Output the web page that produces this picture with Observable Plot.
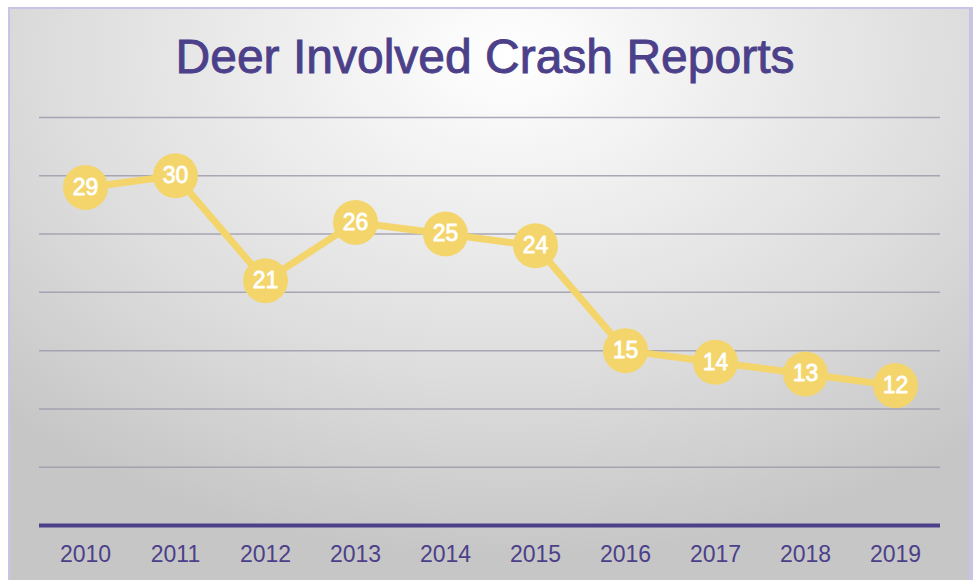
<!DOCTYPE html>
<html>
<head>
<meta charset="utf-8">
<script src="https://cdn.jsdelivr.net/npm/d3@7"></script>
<script src="https://cdn.jsdelivr.net/npm/@observablehq/plot@0.6"></script>
<style>
  html, body { margin: 0; padding: 0; background: #ffffff; }
  #wrap { position: relative; width: 973px; height: 580px; overflow: hidden; }
  #bg {
    position: absolute; left: 8px; top: 7px; width: 959px; height: 590px;
    border: 2px solid #c9c4e6; border-right-width: 4px;
    background: radial-gradient(ellipse 75% 85% at 52% 8%, #ffffff 0%, #ececec 35%, #dcdcdc 65%, #c6c6c6 100%);
  }
  #title {
    position: relative; height: 100px; box-sizing: border-box; padding-top: 33px;
    padding-left: 9px; width: 961px;
    text-align: center; font-family: "Liberation Sans", Arial, sans-serif;
    font-size: 48px; line-height: 1; color: #4b4089;
    -webkit-text-stroke: 0.9px #4b4089;
  }
  #chart { position: relative; }
</style>
</head>
<body>
<div id="wrap">
  <div id="bg"></div>
  <div id="title">Deer Involved Crash Reports</div>
  <div id="chart"></div>
</div>
<script>
const years = ["2010", "2011", "2012", "2013", "2014", "2015", "2016", "2017", "2018", "2019"];
const crashes = [29, 30, 21, 26, 25, 24, 15, 14, 13, 12];
const gridValues = [5, 10, 15, 20, 25, 30, 35];

const data = years.map((y, i) => ({year: y, value: crashes[i]}));

const chart = Plot.plot({
  width: 973,
  height: 480,
  marginLeft: 39,
  marginRight: 33,
  marginTop: 17,
  marginBottom: 55,
  style: {background: "transparent", fontFamily: "'Liberation Sans', Arial, sans-serif", overflow: "visible"},
  x: {type: "band", domain: years, padding: 0, label: null},
  y: {domain: [0, 35], axis: null},
  marks: [
    Plot.ruleY(gridValues, {stroke: "#9e9bab", strokeWidth: 1.5, strokeOpacity: 0.85}),
    Plot.ruleY([0], {stroke: "#4b4089", strokeWidth: 4}),
    Plot.line(data, {x: "year", y: "value", stroke: "#f3d56b", strokeWidth: 7, strokeLinejoin: "round"}),
    Plot.dot(data, {x: "year", y: "value", r: 22.5, fill: "#f3d56b", stroke: "none"}),
    Plot.text(data, {x: "year", y: "value", text: d => String(d.value), fill: "white", fontSize: 23, stroke: "white", strokeWidth: 0.8}),
    Plot.axisX({tickSize: 0, tickPadding: 20, fontSize: 23, color: "#4b4089", label: null})
  ]
});
document.getElementById("chart").appendChild(chart);
</script>
</body>
</html>
